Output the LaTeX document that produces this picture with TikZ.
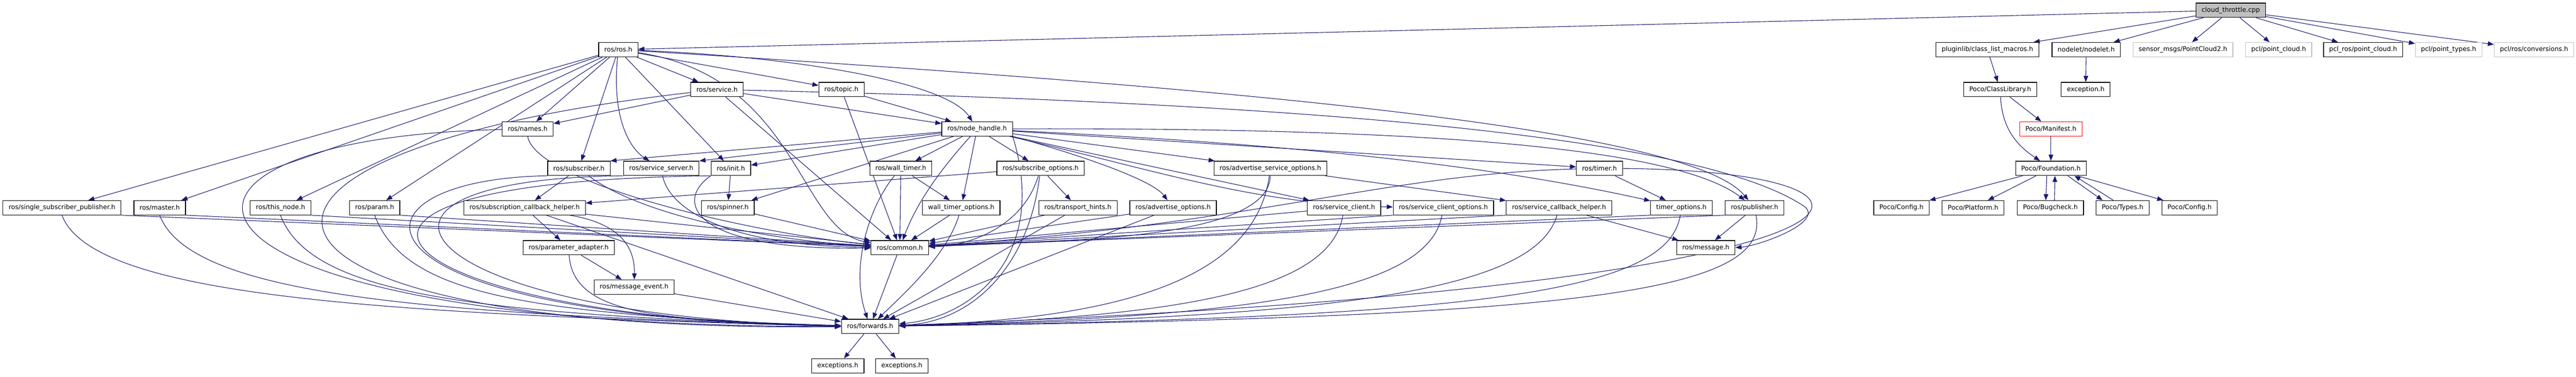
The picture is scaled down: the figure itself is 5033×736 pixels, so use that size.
\documentclass[tikz,border=0pt]{standalone}
\usepackage{fontspec}
\setmainfont{DejaVu Sans}
\usetikzlibrary{arrows.meta}
\pgfdeclarelayer{fond}
\pgfsetlayers{fond,main}
\definecolor{bleunuit}{HTML}{191970}
\definecolor{gris}{HTML}{BFBFBF}
\definecolor{rouge}{HTML}{FF0000}

\begin{document}
\begin{tikzpicture}[x=1pt, y=-1pt,
  fichier/.style={draw=black, line width=1.2pt, fill=white, minimum height=28pt,
    inner xsep=11pt, inner ysep=0pt, font=\fontsize{12.6}{15}\selectfont},
  externe/.style={fichier, draw=gris},
  tronque/.style={fichier, draw=rouge},
  racine/.style={fichier, fill=gris},
  inclut/.style={draw=bleunuit, line width=1.1pt, -{Triangle[length=12pt, width=9pt]}}]
  \useasboundingbox (0,0) rectangle (5033,736);

  % dessiner les fichiers, rangée par rangée
  \node[racine] (cloud) at (4358.5,20) {cloud\_throttle.cpp};

  \node[fichier] (rosros) at (1208,97) {ros/ros.h};
  \node[fichier] (macros) at (3883,97) {pluginlib/class\_list\_macros.h};
  \node[fichier] (nodelet) at (4076,97) {nodelet/nodelet.h};
  \node[externe] (pcmsg) at (4265,97) {sensor\_msgs/PointCloud2.h};
  \node[externe] (pclcloud) at (4452,97) {pcl/point\_cloud.h};
  \node[fichier] (pclros) at (4617,97) {pcl\_ros/point\_cloud.h};
  \node[externe] (pcltypes) at (4784,97) {pcl/point\_types.h};
  \node[externe] (pclconv) at (4951,97) {pcl/ros/conversions.h};

  \node[fichier] (service) at (1401,175) {ros/service.h};
  \node[fichier] (topic) at (1644,175) {ros/topic.h};
  \node[fichier] (classlib) at (3908,175) {Poco/ClassLibrary.h};
  \node[fichier] (exception) at (4075,175) {exception.h};

  \node[fichier] (names) at (1031,252) {ros/names.h};
  \node[fichier] (nodehandle) at (1909,252) {ros/node\_handle.h};
  \node[tronque] (manifest) at (4007,252) {Poco/Manifest.h};

  \node[fichier] (subscriber) at (1131,329) {ros/subscriber.h};
  \node[fichier] (srvserver) at (1292,329) {ros/service\_server.h};
  \node[fichier] (init) at (1428,329) {ros/init.h};
  \node[fichier] (walltimer) at (1760,329) {ros/wall\_timer.h};
  \node[fichier] (subopts) at (2033,329) {ros/subscribe\_options.h};
  \node[fichier] (advsrvopts) at (2482,329) {ros/advertise\_service\_options.h};
  \node[fichier] (timer) at (3125,329) {ros/timer.h};
  \node[fichier] (foundation) at (4007,329) {Poco/Foundation.h};

  \node[fichier] (singlepub) at (121,406) {ros/single\_subscriber\_publisher.h};
  \node[fichier] (master) at (312,406) {ros/master.h};
  \node[fichier] (thisnode) at (548,406) {ros/this\_node.h};
  \node[fichier] (param) at (732,406) {ros/param.h};
  \node[fichier] (subhelper) at (1025,406) {ros/subscription\_callback\_helper.h};
  \node[fichier] (spinner) at (1422,406) {ros/spinner.h};
  \node[fichier] (wtopts) at (1878,406) {wall\_timer\_options.h};
  \node[fichier] (hints) at (2106,406) {ros/transport\_hints.h};
  \node[fichier] (advopts) at (2292,406) {ros/advertise\_options.h};
  \node[fichier] (srvclient) at (2626,406) {ros/service\_client.h};
  \node[fichier] (srvclopts) at (2820,406) {ros/service\_client\_options.h};
  \node[fichier] (srvhelper) at (3046,406) {ros/service\_callback\_helper.h};
  \node[fichier] (timeropts) at (3285,406) {timer\_options.h};
  \node[fichier] (publisher) at (3428,406) {ros/publisher.h};
  \node[fichier] (config) at (3715,406) {Poco/Config.h};
  \node[fichier] (platform) at (3855,406) {Poco/Platform.h};
  \node[fichier] (bugcheck) at (4006,406) {Poco/Bugcheck.h};
  \node[fichier] (types) at (4147,406) {Poco/Types.h};
  \node[fichier] (configb) at (4278,406) {Poco/Config.h};

  \node[fichier] (adapter) at (1111,484) {ros/parameter\_adapter.h};
  \node[fichier] (common) at (1758,484) {ros/common.h};
  \node[fichier] (message) at (3333,484) {ros/message.h};

  \node[fichier] (msgevent) at (1239,561) {ros/message\_event.h};
  \node[fichier] (forwards) at (1700,638) {ros/forwards.h};
  \node[fichier] (excA) at (1637,715) {exceptions.h};
  \node[fichier] (excB) at (1762,715) {exceptions.h};

  \begin{pgfonlayer}{fond}
  % dessiner les inclusions droites
  \foreach \f in {rosros, macros, nodelet, pcmsg, pclcloud, pclros, pcltypes, pclconv}
    \draw[inclut] (cloud) -- (\f);
  \foreach \a/\b in {macros/classlib, nodelet/exception, classlib/manifest, manifest/foundation,
      foundation/config, foundation/platform, foundation/configb,
      rosros/singlepub, rosros/master, rosros/thisnode, rosros/param, rosros/names,
      rosros/subscriber, rosros/init, rosros/service, rosros/topic,
      service/names, service/nodehandle, service/common, topic/nodehandle, topic/common,
      subscriber/subhelper, init/spinner, spinner/common,
      nodehandle/init, nodehandle/spinner, nodehandle/walltimer, nodehandle/wtopts,
      nodehandle/subopts, nodehandle/advsrvopts, nodehandle/srvclient, nodehandle/timer,
      walltimer/wtopts, walltimer/common, wtopts/common, subopts/hints, subopts/subhelper,
      hints/common, hints/forwards, advopts/common, advopts/forwards, advsrvopts/srvhelper,
      srvclient/common, srvhelper/message, timer/timeropts, publisher/message,
      subhelper/adapter, subhelper/common, subhelper/forwards, adapter/msgevent,
      msgevent/forwards, common/forwards, forwards/excA, forwards/excB}
    \draw[inclut] (\a) -- (\b);
  \foreach \f in {singlepub, master, thisnode, param}
    \draw[inclut] (\f.south east) -- (common);
  \foreach \f in {srvclopts, srvhelper, timeropts, publisher}
    \draw[inclut] (\f.south west) -- (common);
  \draw[inclut] (nodehandle) -- (subscriber.north east);
  \draw[inclut] (nodehandle) -- (srvserver.north east);

  % Poco : aller et retour
  \draw[inclut] (classlib) .. controls (3912,260) and (3950,290) .. (foundation);
  \draw[inclut] ([xshift=-8pt]foundation.south) -- ([xshift=-9pt]bugcheck.north);
  \draw[inclut] ([xshift=8pt]bugcheck.north) -- ([xshift=8pt]foundation.south);
  \draw[inclut] ([xshift=33pt]foundation.south) -- ([xshift=-39pt]types.north);
  \draw[inclut] ([xshift=-18pt]types.north) -- ([xshift=46pt]foundation.south);

  % dessiner les courbes
  \draw[inclut] (rosros) .. controls (1195,230) and (1230,290) .. (srvserver);
  \draw[inclut] (rosros) .. controls (1550,110) and (1850,160) .. (nodehandle);
  \draw[inclut] (rosros) .. controls (2400,170) and (3300,250) .. (publisher);
  \draw[inclut] (rosros) .. controls (1560,150) and (1560,450) .. (common);
  \draw[inclut] (service) .. controls (2500,200) and (3300,260) .. (3520,400)
    .. controls (3575,430) and (3440,480) .. (message.east);
  \draw[inclut] (service) .. controls (300,300) and (400,650) .. (forwards);
  \draw[inclut] (names) .. controls (200,270) and (250,640) .. (forwards);
  \draw[inclut] (names.south) .. controls +(15,90) and +(-300,-30) .. (common);
  \draw[inclut] (subscriber.south west) .. controls (650,350) and (640,620) .. (forwards);
  \draw[inclut] (srvserver.south west) .. controls (600,350) and (800,620) .. (forwards);
  \draw[inclut] (init.south west) .. controls (450,355) and (760,625) .. (forwards);
  \draw[inclut] (subscriber) .. controls (1250,420) and (1500,470) .. (common);
  \draw[inclut] (srvserver) .. controls (1305,400) and (1400,480) .. (common);
  \draw[inclut] (init.south west) .. controls (1320,390) and (1340,490) .. (common);
  \draw[inclut] (nodehandle) .. controls (1830,340) and (1790,400) .. (common);
  \draw[inclut] (nodehandle.south east) .. controls (2050,500) and (1900,620) .. (forwards);
  \draw[inclut] (nodehandle.south east) .. controls (2100,300) and (2250,350) .. (advopts);
  \draw[inclut] (nodehandle) .. controls (2250,330) and (2450,400) .. (srvclopts);
  \draw[inclut] (nodehandle) .. controls (2500,280) and (2900,320) .. (timeropts);
  \draw[inclut] (nodehandle) .. controls (2600,250) and (3250,270) .. (publisher);
  \draw[inclut] (walltimer) .. controls (1700,400) and (1660,520) .. (forwards);
  \draw[inclut] (wtopts) .. controls (1850,500) and (1760,580) .. (forwards);
  \draw[inclut] (subopts) .. controls (2000,440) and (1900,480) .. (common);
  \draw[inclut] (subopts) .. controls (2010,520) and (1900,630) .. (forwards);
  \draw[inclut] (advsrvopts) .. controls (2480,480) and (2000,470) .. (common);
  \draw[inclut] (advsrvopts) .. controls (2450,560) and (2150,625) .. (forwards);
  \draw[inclut] (timer) .. controls (2700,340) and (2450,440) .. (common);
  \draw[inclut] (timer) .. controls (3800,334) and (3800,560) .. (forwards);
  \foreach \f/\c/\d in {srvclient/2600/2300, srvclopts/2790/2450, srvhelper/3000/2600,
      timeropts/3260/2900, publisher/3460/3100}
    \draw[inclut] (\f) .. controls (\c,570) and (\d,620) .. (forwards);
  \foreach \f/\d in {singlepub/900, master/800, thisnode/700, param/600}
    \draw[inclut] (\f.south) .. controls +(60,160) and +(-\d,-25) .. (forwards.west);
  \draw[inclut] (subhelper) .. controls (1230,440) and (1240,500) .. (msgevent);
  \draw[inclut] (adapter) .. controls (1120,620) and (1300,625) .. (forwards);
  \end{pgfonlayer}
\end{tikzpicture}
\end{document}
